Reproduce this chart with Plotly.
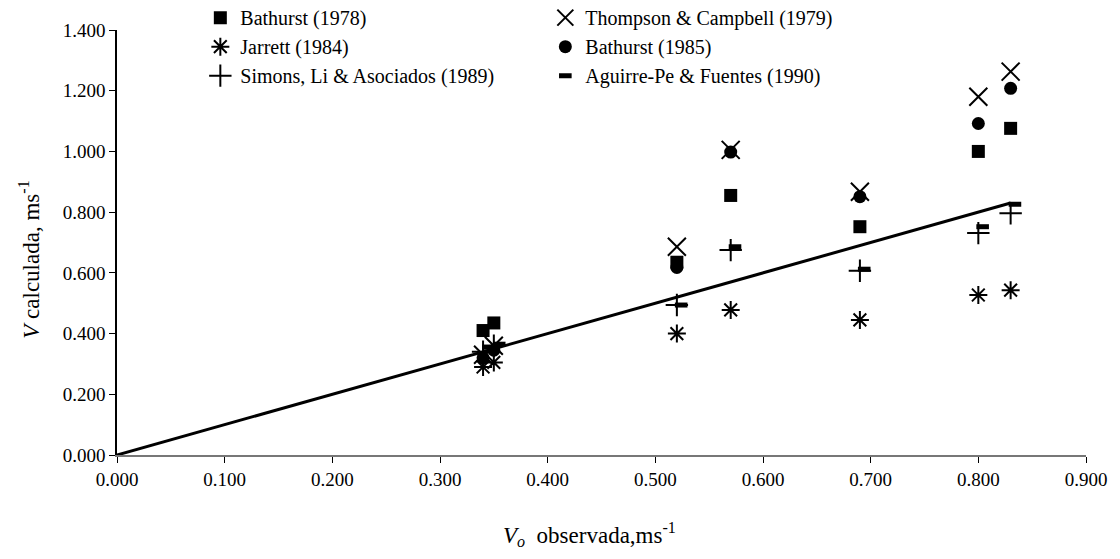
import plotly.graph_objects as go

# Observed velocity (x)
x_obs = [0.34, 0.35, 0.52, 0.57, 0.69, 0.80, 0.83]
x_dash = [0.345, 0.355, 0.524, 0.574, 0.694, 0.804, 0.834]

# Calculated velocities per method
bathurst_1978 = [0.410, 0.435, 0.635, 0.855, 0.752, 1.000, 1.076]
thompson_1979 = [0.330, 0.360, 0.686, 1.005, 0.867, 1.180, 1.263]
jarrett_1984 = [0.290, 0.305, 0.400, 0.478, 0.445, 0.527, 0.543]
bathurst_1985 = [0.320, 0.345, 0.618, 0.998, 0.851, 1.092, 1.208]
simons_1989 = [0.340, 0.360, 0.494, 0.675, 0.607, 0.731, 0.796]
aguirre_1990 = [0.355, 0.365, 0.494, 0.686, 0.612, 0.752, 0.826]

line_x = [0.0, 0.83]
line_y = [0.0, 0.83]

x_ticks = [0.0, 0.1, 0.2, 0.3, 0.4, 0.5, 0.6, 0.7, 0.8, 0.9]
y_ticks = [0.0, 0.2, 0.4, 0.6, 0.8, 1.0, 1.2, 1.4]

x_title = "<i>V<sub>o</sub></i>  observada,ms<sup>-1</sup>"
y_title = "<i>V</i> calculada, ms<sup>-1</sup>"

FONT = "Liberation Serif"

fig = go.Figure()

fig.add_trace(go.Scatter(x=line_x, y=line_y, mode="lines",
                         line=dict(color="black", width=3), showlegend=False))

fig.add_trace(go.Scatter(x=x_obs, y=bathurst_1978, mode="markers", name="Bathurst (1978)",
                         marker=dict(symbol="square", size=13, color="black")))
fig.add_trace(go.Scatter(x=x_obs, y=thompson_1979, mode="markers", name="Thompson & Campbell (1979)",
                         marker=dict(symbol="x-thin-open", size=18, color="black",
                                     line=dict(color="black", width=2))))
fig.add_trace(go.Scatter(x=x_obs, y=jarrett_1984, mode="markers", name="Jarrett (1984)",
                         marker=dict(symbol="asterisk-open", size=15, color="black",
                                     line=dict(color="black", width=2))))
fig.add_trace(go.Scatter(x=x_obs, y=bathurst_1985, mode="markers", name="Bathurst (1985)",
                         marker=dict(symbol="circle", size=13, color="black")))
fig.add_trace(go.Scatter(x=x_obs, y=simons_1989, mode="markers", name="Simons, Li & Asociados (1989)",
                         marker=dict(symbol="cross-thin-open", size=16, color="black",
                                     line=dict(color="black", width=2))))
fig.add_trace(go.Scatter(x=x_dash, y=aguirre_1990, mode="markers", name="Aguirre-Pe & Fuentes (1990)",
                         marker=dict(symbol="line-ew-open", size=9, color="black",
                                     line=dict(color="black", width=5))))

fig.update_layout(
    width=1120, height=559,
    margin=dict(l=109, r=42, t=22, b=112, autoexpand=False),
    paper_bgcolor="white", plot_bgcolor="white",
    font=dict(family=FONT, size=19, color="black"),
    showlegend=True,
    legend=dict(orientation="h", x=0.086, y=1.075, xanchor="left", yanchor="top",
                entrywidth=300, entrywidthmode="pixels",
                font=dict(family=FONT, size=20, color="black"),
                bgcolor="rgba(0,0,0,0)", itemwidth=30),
    xaxis=dict(range=[0, 0.9], tickvals=x_ticks, tickformat=".3f",
               showgrid=False, zeroline=False, showline=True, linecolor="#777777", linewidth=1.5,
               ticks="outside", ticklen=6, tickcolor="black",
               tickfont=dict(family=FONT, size=19)),
    yaxis=dict(range=[0, 1.4], tickvals=y_ticks, tickformat=".3f",
               showgrid=False, zeroline=False, showline=True, linecolor="black", linewidth=1.5,
               ticks="outside", ticklen=6, tickcolor="black",
               tickfont=dict(family=FONT, size=19)),
    annotations=[
        dict(text=x_title, xref="paper", yref="paper", x=0.488, y=-0.188,
             xanchor="center", yanchor="middle", showarrow=False,
             font=dict(family=FONT, size=23, color="black")),
        dict(text=y_title, xref="paper", yref="paper", x=-0.09, y=0.459,
             xanchor="center", yanchor="middle", textangle=-90, showarrow=False,
             font=dict(family=FONT, size=23, color="black")),
    ],
)

fig.write_html("out.html")
